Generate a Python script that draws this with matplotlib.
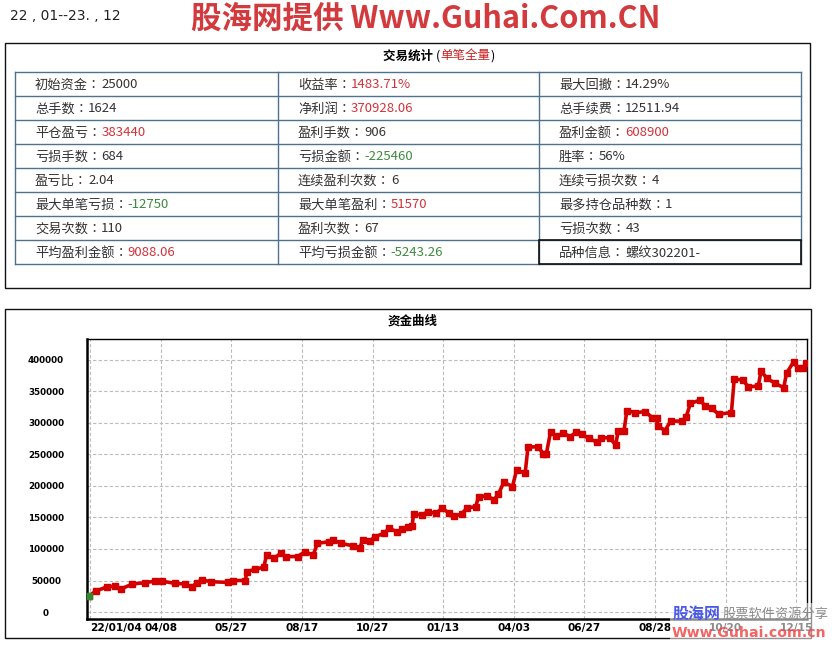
import matplotlib

matplotlib.use('Agg')
from matplotlib import pyplot as plt
from matplotlib.patches import Rectangle

plt.rcParams['font.family'] = ['Noto Sans CJK SC', 'DejaVu Sans']

# stats table, read row by row (3 columns)
stat_labels = ['初始资金：', '收益率：', '最大回撤：',
               '总手数：', '净利润：', '总手续费：',
               '平仓盈亏：', '盈利手数：', '盈利金额：',
               '亏损手数：', '亏损金额：', '胜率：',
               '盈亏比：', '连续盈利次数：', '连续亏损次数：',
               '最大单笔亏损：', '最大单笔盈利：', '最多持仓品种数：',
               '交易次数：', '盈利次数：', '亏损次数：',
               '平均盈利金额：', '平均亏损金额：', '品种信息：']
stat_values = ['25000', '1483.71%', '14.29%',
               '1624', '370928.06', '12511.94',
               '383440', '906', '608900',
               '684', '-225460', '56%',
               '2.04', '6', '4',
               '-12750', '51570', '1',
               '110', '67', '43',
               '9088.06', '-5243.26', '螺纹302201-']
# 'up' = red value, 'down' = green value, '' = plain
stat_kind = ['', 'up', '',
             '', 'up', '',
             'up', '', 'up',
             '', 'down', '',
             '', '', '',
             'down', 'up', '',
             '', '', '',
             'up', 'down', '']

# equity curve, bar index vs account value
bar_idx = [0, 5, 13, 19, 23, 31, 40, 47, 52, 61, 68, 73, 77, 80, 87, 99, 102, 111,
           112, 118, 124, 126, 131, 136, 140, 148, 153, 159, 162, 170, 173, 179,
           187, 192, 194, 199, 203, 209, 213, 218, 222, 226, 229, 230, 236, 240,
           246, 250, 255, 259, 264, 268, 274, 276, 282, 287, 290, 294, 300, 303,
           309, 311, 318, 322, 324, 327, 331, 336, 341, 345, 349, 354, 360, 363,
           369, 373, 375, 379, 381, 387, 394, 399, 402, 403, 408, 412, 420, 423,
           426, 433, 436, 441, 446, 455, 457, 463, 467, 474, 476, 480, 486, 492,
           494, 499, 502, 506, 508]
equity = [25000, 33000, 40000, 41000, 36500, 44500, 46500, 49000, 49000, 45500,
          44500, 40000, 46500, 51000, 48000, 47000, 50000, 50000,
          64000, 68000, 71000, 90500, 85000, 93000, 88000, 88000, 95500, 90500,
          109000, 111500, 114000, 109000, 105000, 101000, 115000, 113000, 119500,
          125000, 133000, 127500, 131000, 135500, 136000, 155500, 154000, 159000,
          156500, 164500, 157500, 152000, 155500, 165500, 167000, 183000, 184500,
          178000, 187000, 206000, 199000, 225500, 220000, 261500, 262500, 251000,
          251000, 286000, 279500, 283500, 278500, 285000, 282000, 275500, 269500,
          276500, 276500, 265000, 288000, 288000, 319500, 316500, 318000, 308500,
          308000, 295500, 288000, 303000, 303000, 310000, 331000, 336500, 327500,
          323000, 314000, 316500, 370000, 368000, 357500, 358500, 382500, 371000,
          363000, 356000, 379000, 397000, 387000, 388000, 395000]

date_ticks = [1, 51, 101, 151, 201, 251, 301, 351, 401, 451, 501]
date_labels = ['22/01/04', '04/08', '05/27', '08/17', '10/27', '01/13',
               '04/03', '06/27', '08/28', '10/20', '12/15']
y_ticks = [0, 50000, 100000, 150000, 200000, 250000, 300000, 350000, 400000]

RED = '#d2323a'
GREEN = '#3d8a3d'
GRID_BLUE = '#4f7190'
CELL_FONT = ['Noto Sans CJK TC', 'DejaVu Sans']

fig = plt.figure(figsize=(8.4, 6.45), dpi=100)
bg = fig.add_axes([0, 0, 1, 1], zorder=0)
bg.set_xlim(0, 840)
bg.set_ylim(645, 0)
bg.axis('off')

# header
bg.text(10, 16, '22 , 01--23. , 12', fontsize=10, color='#222222', va='center',
        family=['DejaVu Sans'])
bg.text(426, 19, '股海网提供 Www.Guhai.Com.CN', fontsize=22, fontweight='bold',
        color='#d33a3e', ha='center', va='center')

# stats panel
bg.add_patch(Rectangle((5, 43), 805, 245, fill=False, ec='#111111', lw=1))
t1 = bg.text(383, 56, '交易统计 ', fontsize=9, fontweight='bold', va='center')
t2 = bg.annotate('(', xy=(1, 0), xycoords=t1, fontsize=9, va='bottom', ha='left')
t3 = bg.annotate('单笔全量', xy=(1, 0), xycoords=t2, fontsize=9, va='bottom',
                 ha='left', color='#c82020')
bg.annotate(')', xy=(1, 0), xycoords=t3, fontsize=9, va='bottom', ha='left')

col_x = [15, 278, 539, 801]
row_y0, row_h = 72, 24
n_rows = len(stat_labels) // 3
for i in range(n_rows + 1):
    bg.plot([col_x[0], col_x[-1]], [row_y0 + i * row_h] * 2, color=GRID_BLUE, lw=1)
for cx in col_x:
    bg.plot([cx, cx], [row_y0, row_y0 + n_rows * row_h], color=GRID_BLUE, lw=1)
bg.add_patch(Rectangle((col_x[2], row_y0 + (n_rows - 1) * row_h), col_x[3] - col_x[2],
                       row_h, fill=False, ec='#111111', lw=1.2, zorder=3))

for k, (lab, val, kind) in enumerate(zip(stat_labels, stat_values, stat_kind)):
    r, c = divmod(k, 3)
    ty = row_y0 + r * row_h + row_h / 2 + 1
    tl = bg.text(col_x[c] + 20, ty, lab, fontsize=9.5, color='#333333', va='center',
                 family=CELL_FONT)
    vc = {'up': RED, 'down': GREEN}.get(kind, '#333333')
    bg.annotate(val, xy=(1, 0), xycoords=tl, fontsize=9.5, color=vc,
                va='bottom', ha='left', family=CELL_FONT)

# equity panel
bg.add_patch(Rectangle((5, 309), 805.5, 329, fill=False, ec='#111111', lw=1))
bg.text(413, 321, '资金曲线', fontsize=9, fontweight='bold', ha='center', va='center')

ax = fig.add_axes([87 / 840, 1 - 619 / 645, 720 / 840, 280 / 645], zorder=1)
ax.plot(bar_idx, equity, color='#d40000', lw=2.6, marker='s', ms=4,
        mec='#d40000', mfc='#d40000', zorder=3)
ax.plot(bar_idx[:1], equity[:1], 's', color='#2e8b2e', ms=4, zorder=4)
ax.set_xlim(-1.1, 508.5)
ax.set_ylim(-11100, 433300)
ax.set_xticks(date_ticks)
ax.set_xticklabels(date_labels, fontsize=7.6, fontweight='bold',
                   family=['DejaVu Sans'])
ax.get_xticklabels()[0].set_ha('left')
ax.get_xticklabels()[0].set_x(-1.0)
ax.set_yticks(y_ticks)
ax.set_yticklabels([str(v) for v in y_ticks], fontsize=6.3, fontweight='bold',
                   family=['DejaVu Sans'], ha='center')
ax.tick_params(axis='y', length=0, pad=29.5)
ax.tick_params(axis='x', length=0, pad=3)
ax.grid(True, color='#bbbbbb', ls=(0, (3, 2)), lw=0.8)
for side in ['left', 'bottom']:
    ax.spines[side].set_linewidth(1.8)
for side in ['top', 'right']:
    ax.spines[side].set_linewidth(1.0)

# watermark in the lower right corner
fig.patches.append(Rectangle((670 / 840, 2 / 645), 166 / 840, 40 / 645,
                             transform=fig.transFigure, fc='white', alpha=0.55,
                             ec='none', zorder=5))
fig.text(673 / 840, 1 - 614 / 645, '股海网', fontsize=11.5, fontweight='bold',
         color='#4a5ae8', va='center', zorder=6)
fig.text(723 / 840, 1 - 614 / 645, '股票软件资源分享', fontsize=9.5, color='#8a8a8a',
         va='center', zorder=6)
fig.text(672 / 840, 1 - 633 / 645, 'Www.Guhai.com.cn', fontsize=10.2, fontweight='bold',
         color='#f04a4a', alpha=0.85, va='center', family=['DejaVu Sans'], zorder=6)

fig.savefig('out.png', dpi=100)
